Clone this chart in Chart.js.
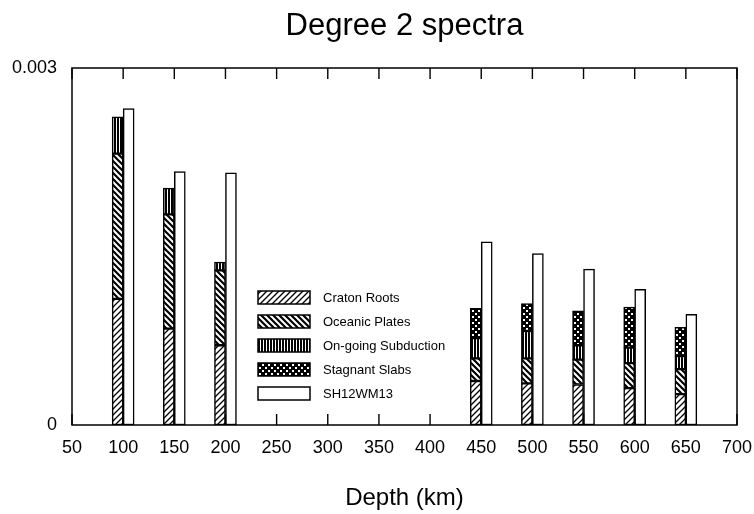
<!DOCTYPE html>
<html>
<head>
<meta charset="utf-8">
<script src="https://cdn.jsdelivr.net/npm/chart.js@4.4.0/dist/chart.umd.min.js"></script>
<style>
  html, body { margin: 0; padding: 0; background: #fff; }
  #wrap { width: 754px; height: 514px; }
</style>
</head>
<body>
<div id="wrap"><canvas id="spectra-bar-chart"></canvas></div>
<script>
var depths = [100, 150, 200, 450, 500, 550, 600, 650];
var cratonRoots  = [0.00106, 0.00081, 0.00067, 0.00037, 0.00035, 0.00034, 0.00031, 0.00026];
var oceanicPlates = [0.00122, 0.00096, 0.00063, 0.00019, 0.00021, 0.00021, 0.00021, 0.00021];
var subduction   = [0.00031, 0.00022, 0.00007, 0.00017, 0.00023, 0.00012, 0.00013, 0.00011];
var stagnantSlabs = [null, null, null, 0.00025, 0.00023, 0.00029, 0.00034, 0.00024];
var sh12wm13     = [0.00266, 0.00213, 0.00212, 0.00154, 0.00144, 0.00131, 0.00114, 0.00093];
var xTicks = [50, 700, 50];   // min, max, step
var yTicks = [0, 0.003];

var FONT = "'Liberation Sans', Arial, Helvetica, sans-serif";

function points(values) {
    return depths.map(function(d, i){ return {x: d, y: values[i]}; });
}

function pattern(kind) {
    var c = document.createElement('canvas');
    var ctx = c.getContext('2d');
    var s = 6;
    if (kind == 'vert') s = 3;
    c.width = s; c.height = s;
    ctx.fillStyle = '#fff';
    ctx.fillRect(0, 0, s, s);
    ctx.strokeStyle = '#000';
    if (kind == 'up' || kind == 'down') {
        ctx.lineWidth = kind == 'up' ? 1.3 : 2.2;
        ctx.beginPath();
        if (kind == 'up') {
            ctx.moveTo(0, s); ctx.lineTo(s, 0);
            ctx.moveTo(-1, 1); ctx.lineTo(1, -1);
            ctx.moveTo(s - 1, s + 1); ctx.lineTo(s + 1, s - 1);
        } else {
            ctx.moveTo(0, 0); ctx.lineTo(s, s);
            ctx.moveTo(-1, s - 1); ctx.lineTo(1, s + 1);
            ctx.moveTo(s - 1, -1); ctx.lineTo(s + 1, 1);
        }
        ctx.stroke();
    } else if (kind == 'vert') {
        ctx.fillStyle = '#000';
        ctx.fillRect(0, 0, 2, s);
    } else if (kind == 'dots') {
        ctx.fillStyle = '#000';
        ctx.fillRect(0, 0, s, s);
        ctx.fillStyle = '#fff';
        ctx.fillRect(1, 1, 2, 2);
        ctx.fillRect(4, 4, 2, 2);
    }
    return ctx.createPattern(c, 'repeat');
}

function barSet(label, values, fill, stack) {
    return {
        label: label,
        data: points(values),
        backgroundColor: fill,
        borderColor: '#000',
        borderWidth: 1.5,
        borderSkipped: false,
        barThickness: 11,
        stack: stack
    };
}

// box round the plot and inward tick marks on top and bottom
var framePlugin = {
    id: 'frame',
    afterDraw: function(chart) {
        var a = chart.chartArea, ctx = chart.ctx, sx = chart.scales.x;
        ctx.save();
        ctx.fillStyle = '#000';
        for (var v = xTicks[0]; v <= xTicks[1]; v += xTicks[2]) {
            var px = sx.getPixelForValue(v);
            ctx.fillRect(px - 0.7, a.bottom - 11, 1.4, 11);
            ctx.fillRect(px - 0.7, a.top, 1.4, 11);
        }
        ctx.strokeStyle = '#000';
        ctx.lineWidth = 1.5;
        ctx.strokeRect(a.left, a.top, a.right - a.left, a.bottom - a.top);
        ctx.restore();
    }
};

var legendPlugin = {
    id: 'boxLegend',
    afterDraw: function(chart) {
        var a = chart.chartArea, ctx = chart.ctx;
        var x = a.left + 186, y = a.top + 223;
        ctx.save();
        ctx.font = '13px ' + FONT;
        ctx.textBaseline = 'middle';
        chart.data.datasets.forEach(function(ds, i){
            var yy = y + i * 24;
            ctx.fillStyle = ds.backgroundColor;
            ctx.fillRect(x, yy, 52, 13);
            ctx.strokeStyle = '#000';
            ctx.lineWidth = 1.5;
            ctx.strokeRect(x, yy, 52, 13);
            ctx.fillStyle = '#000';
            ctx.fillText(ds.label, x + 65, yy + 7);
        });
        ctx.restore();
    }
};

Chart.defaults.color = '#000';
Chart.defaults.font.family = FONT;

new Chart(document.getElementById('spectra-bar-chart'), {
    type: 'bar',
    data: {
        datasets: [
            barSet('Craton Roots', cratonRoots, pattern('up'), 'model'),
            barSet('Oceanic Plates', oceanicPlates, pattern('down'), 'model'),
            barSet('On-going Subduction', subduction, pattern('vert'), 'model'),
            barSet('Stagnant Slabs', stagnantSlabs, pattern('dots'), 'model'),
            barSet('SH12WM13', sh12wm13, '#fff', 'obs')
        ]
    },
    options: {
        responsive: true,
        maintainAspectRatio: false,
        animation: false,
        devicePixelRatio: 1,
        layout: { padding: { left: 0, right: 17, top: 0, bottom: 0 } },
        plugins: {
            legend: { display: false },
            tooltip: { enabled: false },
            title: { display: false }
        },
        scales: {
            x: {
                type: 'linear',
                position: 'bottom',
                min: xTicks[0], max: xTicks[1],
                offset: false,
                ticks: { stepSize: xTicks[2], font: { size: 18 }, padding: 4, maxRotation: 0, autoSkip: false },
                grid: { display: false },
                border: { display: false },
                title: { display: true, text: 'Depth (km)', font: { size: 24 }, padding: { top: 0, bottom: 1 } },
                afterFit: function(scale){ scale.height = 89; scale.paddingLeft = 0; scale.paddingRight = 0; }
            },
            xTop: {
                type: 'linear',
                position: 'top',
                min: xTicks[0], max: xTicks[1],
                offset: false,
                ticks: { stepSize: xTicks[2], display: false },
                grid: { display: false },
                border: { display: false },
                title: { display: true, text: 'Degree 2 spectra', font: { size: 31 }, padding: { top: 8, bottom: 0 } },
                afterFit: function(scale){ scale.height = 68; scale.paddingLeft = 0; scale.paddingRight = 0; }
            },
            y: {
                stacked: true,
                min: yTicks[0], max: yTicks[1],
                ticks: {
                    stepSize: yTicks[1] - yTicks[0],
                    font: { size: 18 },
                    padding: 15,
                    callback: function(v){ return v === 0 ? '0' : String(v); }
                },
                grid: { display: false, drawTicks: false },
                border: { display: false },
                afterFit: function(scale){ scale.width = 72; }
            }
        }
    },
    plugins: [framePlugin, legendPlugin]
});
</script>
</body>
</html>
